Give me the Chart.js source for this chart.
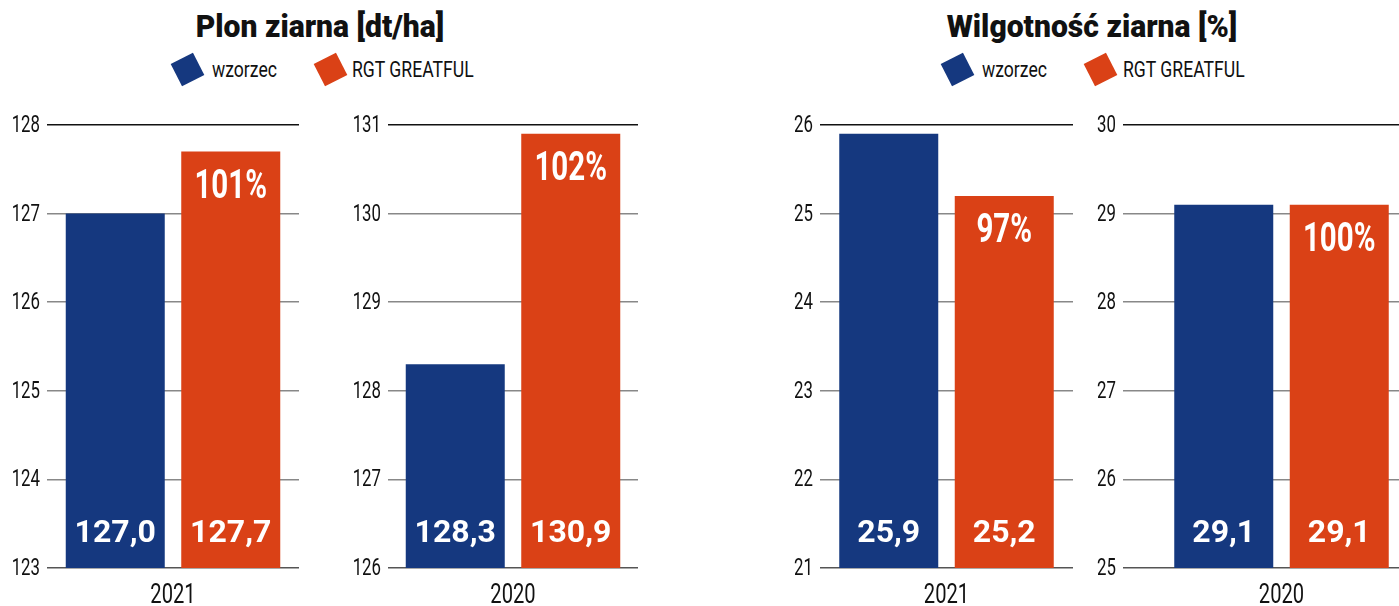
<!DOCTYPE html>
<html>
<head>
<meta charset="utf-8">
<script src="https://cdn.jsdelivr.net/npm/chart.js@4/dist/chart.umd.min.js"></script>
<style>
  html, body { margin: 0; padding: 0; background: #fff; overflow: hidden; }
  body { width: 1399px; height: 606px; position: relative; font-family: Roboto, sans-serif; color: #111; }
  .title { position: absolute; top: 10px; font-weight: 900; font-size: 32px; line-height: 32px; white-space: nowrap; transform: translateX(-50%) scaleX(0.94); }
  .leg { position: absolute; top: 59px; font-size: 22px; line-height: 22px; white-space: nowrap; transform: scaleX(0.8); transform-origin: left center; }
  .sq { position: absolute; width: 25px; height: 25px; transform: rotate(-27deg); }
  .panel { position: absolute; top: 115px; height: 491px; }
</style>
</head>
<body>
<div class="title" style="left:320px">Plon ziarna [dt/ha]</div>
<div class="title" style="left:1092px">Wilgotność ziarna [%]</div>

<div class="sq" style="left:175px;top:57px;background:#15387f"></div>
<div class="leg" style="left:212px">wzorzec</div>
<div class="sq" style="left:318px;top:57px;background:#da4116"></div>
<div class="leg" style="left:352px">RGT GREATFUL</div>

<div class="sq" style="left:945px;top:57px;background:#15387f"></div>
<div class="leg" style="left:982px">wzorzec</div>
<div class="sq" style="left:1088px;top:57px;background:#da4116"></div>
<div class="leg" style="left:1123px">RGT GREATFUL</div>

<div class="panel" style="left:0px;width:299px"><canvas id="c0"></canvas></div>
<div class="panel" style="left:341px;width:297px"><canvas id="c1"></canvas></div>
<div class="panel" style="left:773px;width:300px"><canvas id="c2"></canvas></div>
<div class="panel" style="left:1076px;width:364px"><canvas id="c3"></canvas></div>

<script>
const years = ['2021', '2020'];
const plonWzorzec = [127.0, 128.3];
const plonGreatful = [127.7, 130.9];
const plonProcent = ['101%', '102%'];
const plonMin = [123, 126];
const wilgWzorzec = [25.9, 29.1];
const wilgGreatful = [25.2, 29.1];
const wilgProcent = ['97%', '100%'];
const wilgMin = [21, 25];

const BLUE = '#15387f';
const ORANGE = '#da4116';
const FONT = 'Roboto, sans-serif';

// tekst zwężony w poziomie (brak fontu condensed)
function narrowText(ctx, text, x, y, font, sx, align) {
  ctx.save();
  ctx.font = font;
  ctx.textAlign = align;
  ctx.translate(x, y);
  ctx.scale(sx, 1);
  ctx.fillText(text, 0, 0);
  ctx.restore();
}

// etykiety osi rysowane ręcznie, żeby były wąskie
const axisLabels = {
  id: 'axisLabels',
  afterDraw(chart) {
    const { ctx, scales: { x, y }, chartArea } = chart;
    ctx.save();
    ctx.fillStyle = '#111';
    ctx.textBaseline = 'middle';
    y.ticks.forEach((t, i) => {
      narrowText(ctx, String(t.value), chartArea.left - 7, y.getPixelForTick(i) + 1, '24px ' + FONT, 0.7, 'right');
    });
    ctx.textBaseline = 'alphabetic';
    x.ticks.forEach((t, i) => {
      narrowText(ctx, chart.data.labels[i], x.getPixelForTick(i), chartArea.bottom + 35, '28px ' + FONT, 0.72, 'center');
    });
    ctx.restore();
  }
};

// napisy na słupkach: wartość na dole, procent na górze pomarańczowego
const barLabels = {
  id: 'barLabels',
  afterDatasetsDraw(chart, args, opts) {
    const { ctx, chartArea } = chart;
    ctx.save();
    ctx.fillStyle = '#fff';
    ctx.textBaseline = 'middle';
    chart.data.datasets.forEach((ds, di) => {
      chart.getDatasetMeta(di).data.forEach((bar, i) => {
        const v = ds.data[i].toFixed(1).replace('.', ',');
        narrowText(ctx, v, bar.x, chartArea.bottom - 34, 'bold 32px ' + FONT, 1, 'center');
        if (di === 1) narrowText(ctx, opts.pct, bar.x, bar.y + 36, 'bold 41px ' + FONT, 0.72, 'center');
      });
    });
    ctx.restore();
  }
};

function makeChart(id, year, a, b, pct, min, areaWidth) {
  new Chart(document.getElementById(id), {
    type: 'bar',
    data: {
      labels: [year],
      datasets: [
        { label: 'wzorzec', data: [a], backgroundColor: BLUE },
        { label: 'RGT GREATFUL', data: [b], backgroundColor: ORANGE }
      ]
    },
    options: {
      responsive: true,
      maintainAspectRatio: false,
      animation: false,
      layout: { padding: { top: 10, right: 0, left: 0, bottom: 0 } },
      datasets: {
        bar: { categoryPercentage: 231 / areaWidth, barPercentage: 99 / 115.5 }
      },
      plugins: {
        legend: { display: false },
        tooltip: { enabled: false },
        barLabels: { pct }
      },
      scales: {
        x: {
          grid: { display: false },
          border: { display: false },
          ticks: { display: false },
          afterFit(s) { s.height = 38; }
        },
        y: {
          min: min,
          max: min + 5,
          border: { display: false },
          grid: {
            drawTicks: false,
            lineWidth: 1.5,
            color: (c) => c.index === 5 ? '#111' : (c.index === 0 ? '#555' : '#888')
          },
          ticks: { stepSize: 1, display: false },
          afterFit(s) { s.width = 47; }
        }
      }
    },
    plugins: [barLabels, axisLabels]
  });
}

makeChart('c0', years[0], plonWzorzec[0], plonGreatful[0], plonProcent[0], plonMin[0], 252);
makeChart('c1', years[1], plonWzorzec[1], plonGreatful[1], plonProcent[1], plonMin[1], 250);
makeChart('c2', years[0], wilgWzorzec[0], wilgGreatful[0], wilgProcent[0], wilgMin[0], 253);
makeChart('c3', years[1], wilgWzorzec[1], wilgGreatful[1], wilgProcent[1], wilgMin[1], 317);
</script>
</body>
</html>
